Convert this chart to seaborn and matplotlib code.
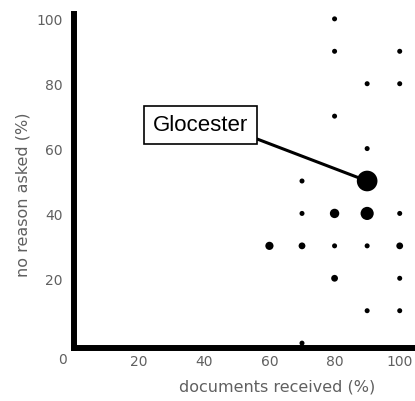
import pandas as pd
import matplotlib.pyplot as plt
import seaborn as sns

sns.set_theme(style="white")
plt.rcParams["font.family"] = ["DejaVu Sans"]

# documents received (%) vs no reason asked (%), n = number of cases at that spot
docs_received = [80, 80, 100, 90, 100, 80, 90, 70, 90, 70, 80, 90, 100,
                 60, 70, 80, 90, 100, 80, 100, 90, 100, 70]
no_reason = [100, 90, 90, 80, 80, 70, 60, 50, 50, 40, 40, 40, 40,
             30, 30, 30, 30, 30, 20, 20, 10, 10, 0]
counts = [1, 1, 1, 1, 1, 1, 1, 1, 20, 1, 4, 8, 1,
          3, 2, 1, 1, 2, 2, 1, 1, 1, 1]

x_ticks = [20, 40, 60, 80, 100]
y_ticks = [20, 40, 60, 80, 100]
highlight = "Glocester"

df = pd.DataFrame({"docs": docs_received, "noreason": no_reason, "n": counts})

fig = plt.figure(figsize=(4.15, 4.02), dpi=100)
ax = fig.add_axes([74 / 415, 1 - 349 / 402, 342 / 415, 334 / 402])

base = 13
sns.scatterplot(
    data=df, x="docs", y="noreason", size="n",
    sizes=(base, 17 * base), size_norm=(1, 20),
    color="black", edgecolor="none", linewidth=0,
    legend=False, ax=ax, clip_on=False, zorder=3,
)

ax.set_xlim(0, 105)
ax.set_ylim(-1.5, 101.5)
ax.set_xticks(x_ticks)
ax.set_yticks(y_ticks)
ax.tick_params(axis="both", length=0, labelsize=10, labelcolor="#606060")
ax.tick_params(axis="y", pad=8)
ax.tick_params(axis="x", pad=4)

sns.despine(ax=ax)
for side in ["left", "bottom"]:
    ax.spines[side].set_linewidth(4.3)
    ax.spines[side].set_color("black")
    ax.spines[side].set_zorder(2)

# shared corner zero
ax.annotate("0", xy=(0, 0), xycoords="axes fraction", xytext=(-8, -8),
            textcoords="offset points", ha="center", va="center",
            fontsize=10, color="#606060")

ax.set_xlabel("documents received (%)", fontsize=11.5, color="#606060")
ax.set_ylabel("no reason asked (%)", fontsize=11.5, color="#606060")
ax.xaxis.set_label_coords((277 - 74) / 342, -0.115)
ax.xaxis.label.set_va("center")
ax.yaxis.set_label_coords((23 - 74) / 342, (349 - 195) / 334)
ax.yaxis.label.set_va("center")

# callout for the big point
big = df.loc[df["n"].idxmax()]
ax.annotate(
    highlight, xy=(big["docs"], big["noreason"]), xycoords="data",
    xytext=(38.7, 67.3), textcoords="data", ha="center", va="center",
    fontsize=16, family=["Liberation Sans"], color="black",
    bbox=dict(boxstyle="square,pad=0.4", fc="white", ec="black", lw=1.2),
    arrowprops=dict(arrowstyle="-", color="black", lw=2.2,
                    relpos=(1, 0), shrinkA=0, shrinkB=0),
    zorder=4,
)

fig.savefig("out.png", dpi=100)
plt.close(fig)
